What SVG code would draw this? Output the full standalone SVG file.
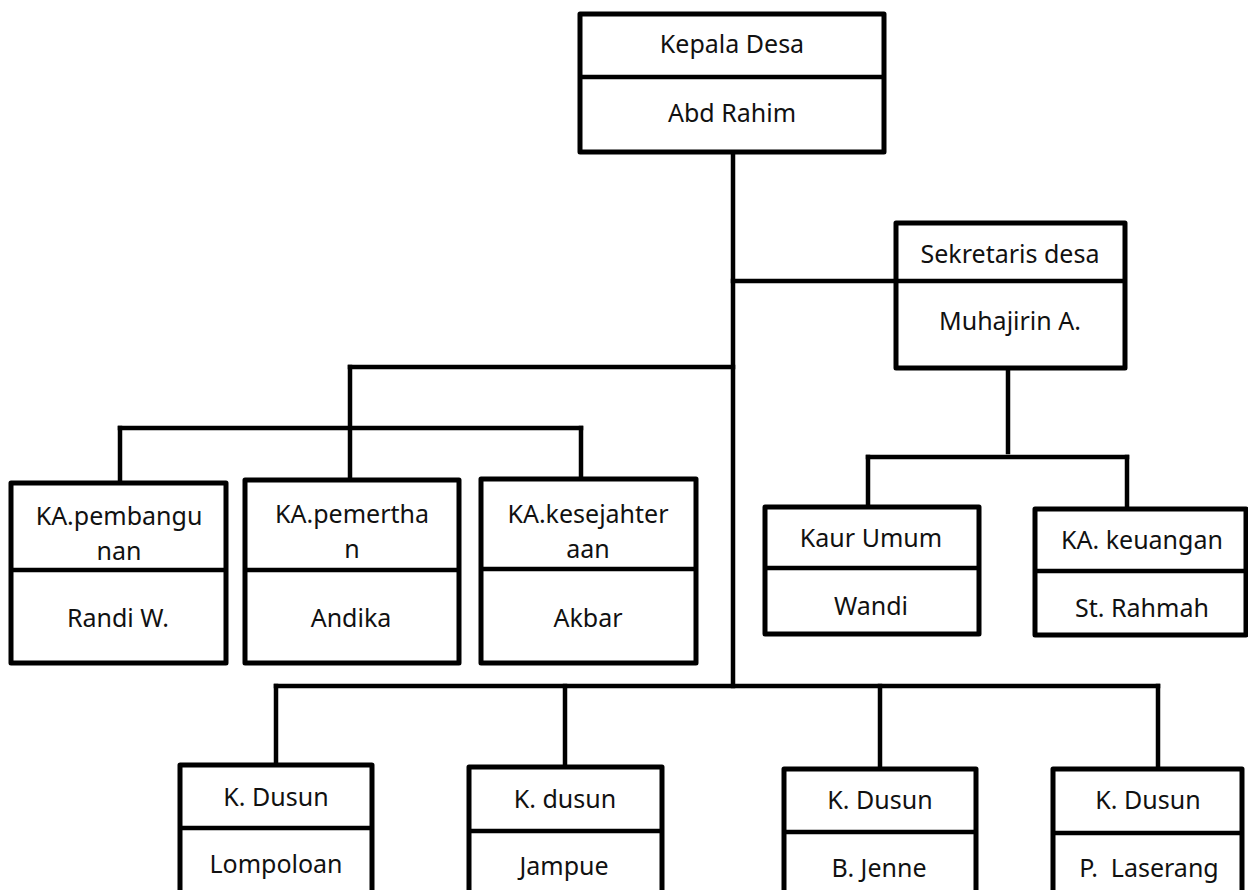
<svg xmlns="http://www.w3.org/2000/svg" width="1248" height="890" viewBox="0 0 1248 890">
<style>
.box{fill:#fff;stroke:#000;stroke-width:5;stroke-linejoin:round}
.div{stroke:#000;stroke-width:4.5}
.con{stroke:#000;stroke-width:4.5;fill:none;stroke-linecap:square}
text{font-family:"Noto Sans","Open Sans","Liberation Sans",sans-serif;font-size:25px;fill:#111;text-anchor:middle}
</style>
<rect width="1248" height="890" fill="#fff"/>
<g id="connectors">
<line class="con" x1="733" y1="152" x2="733" y2="686"/>
<line class="con" x1="733" y1="281" x2="896" y2="281"/>
<line class="con" x1="350" y1="367" x2="733" y2="367"/>
<line class="con" x1="350" y1="367" x2="350" y2="480"/>
<line class="con" x1="120" y1="428" x2="581" y2="428"/>
<line class="con" x1="120" y1="428" x2="120" y2="483"/>
<line class="con" x1="581" y1="428" x2="581" y2="479"/>
<line class="con" x1="1008" y1="368" x2="1008" y2="452"/>
<line class="con" x1="868" y1="457" x2="1127" y2="457"/>
<line class="con" x1="868" y1="457" x2="868" y2="507"/>
<line class="con" x1="1127" y1="457" x2="1127" y2="509"/>
<line class="con" x1="276" y1="686" x2="1158" y2="686"/>
<line class="con" x1="276" y1="686" x2="276" y2="765"/>
<line class="con" x1="565" y1="686" x2="565" y2="767"/>
<line class="con" x1="880" y1="686" x2="880" y2="769"/>
<line class="con" x1="1158" y1="686" x2="1158" y2="769"/>
</g>
<g id="kepala-desa">
<rect class="box" x="580" y="14" width="304" height="138"/>
<line class="div" x1="580" y1="77" x2="884" y2="77"/>
<text x="732" y="53">Kepala Desa</text>
<text x="732" y="122">Abd Rahim</text>
</g>
<g id="sekretaris-desa">
<rect class="box" x="896" y="223" width="229" height="145"/>
<line class="div" x1="896" y1="281" x2="1125" y2="281"/>
<text x="1010" y="263">Sekretaris desa</text>
<text x="1010" y="330">Muhajirin A.</text>
</g>
<g id="ka-pembangunan">
<rect class="box" x="11" y="483" width="215" height="180"/>
<line class="div" x1="11" y1="570" x2="226" y2="570"/>
<text x="119" y="525">KA.pembangu</text>
<text x="119" y="560">nan</text>
<text x="118" y="627">Randi W.</text>
</g>
<g id="ka-pemerthan">
<rect class="box" x="245" y="480" width="214" height="183"/>
<line class="div" x1="245" y1="570" x2="459" y2="570"/>
<text x="352" y="523">KA.pemertha</text>
<text x="352" y="558">n</text>
<text x="351" y="627">Andika</text>
</g>
<g id="ka-kesejahteraan">
<rect class="box" x="481" y="479" width="215" height="184"/>
<line class="div" x1="481" y1="569" x2="696" y2="569"/>
<text x="588" y="523">KA.kesejahter</text>
<text x="588" y="558">aan</text>
<text x="588" y="627">Akbar</text>
</g>
<g id="kaur-umum">
<rect class="box" x="765" y="507" width="214" height="127"/>
<line class="div" x1="765" y1="568" x2="979" y2="568"/>
<text x="871" y="547">Kaur Umum</text>
<text x="871" y="615">Wandi</text>
</g>
<g id="ka-keuangan">
<rect class="box" x="1035" y="509" width="211" height="126"/>
<line class="div" x1="1035" y1="571" x2="1246" y2="571"/>
<text x="1142" y="549">KA. keuangan</text>
<text x="1142" y="617">St. Rahmah</text>
</g>
<g id="dusun-lompoloan">
<rect class="box" x="180" y="765" width="192" height="135"/>
<line class="div" x1="180" y1="828" x2="372" y2="828"/>
<text x="276" y="806">K. Dusun</text>
<text x="276" y="873">Lompoloan</text>
</g>
<g id="dusun-jampue">
<rect class="box" x="469" y="767" width="193" height="133"/>
<line class="div" x1="469" y1="831" x2="662" y2="831"/>
<text x="565" y="808">K. dusun</text>
<text x="564" y="875">Jampue</text>
</g>
<g id="dusun-b-jenne">
<rect class="box" x="784" y="769" width="192" height="131"/>
<line class="div" x1="784" y1="832" x2="976" y2="832"/>
<text x="880" y="809">K. Dusun</text>
<text x="879" y="877">B. Jenne</text>
</g>
<g id="dusun-p-laserang">
<rect class="box" x="1053" y="769" width="189" height="131"/>
<line class="div" x1="1053" y1="833" x2="1242" y2="833"/>
<text x="1148" y="809">K. Dusun</text>
<text x="1149" y="877" xml:space="preserve">P.  Laserang</text>
</g>
</svg>
